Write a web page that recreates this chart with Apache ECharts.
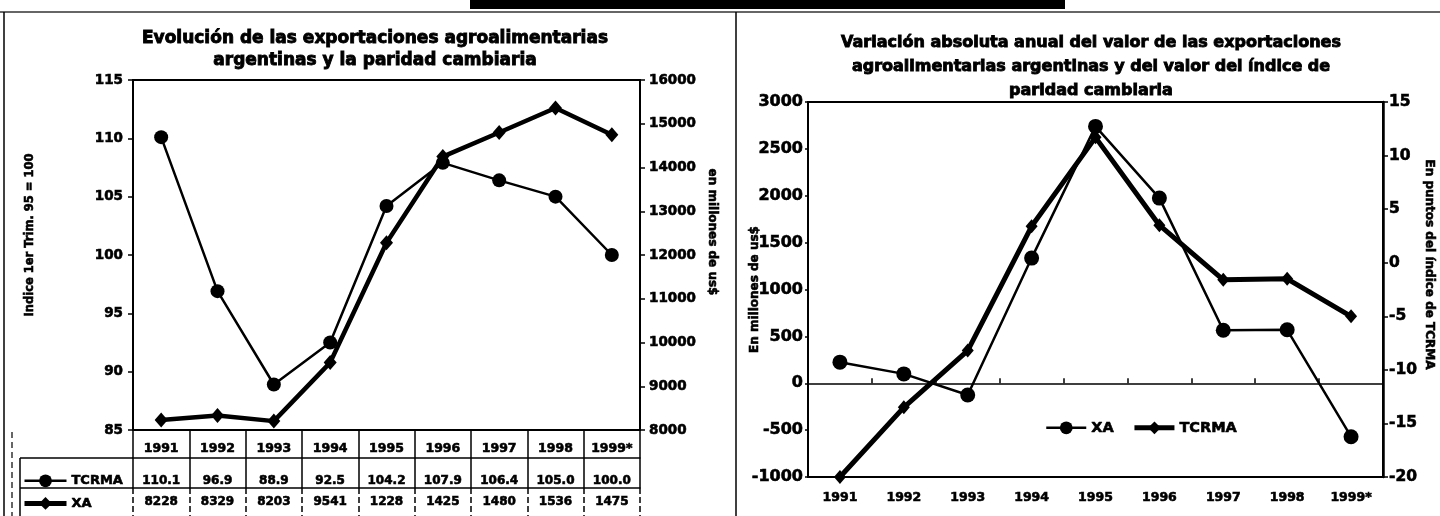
<!DOCTYPE html>
<html><head><meta charset="utf-8">
<script src="https://cdn.jsdelivr.net/npm/echarts@6/dist/echarts.min.js"></script>
<style>html,body{margin:0;padding:0;background:#fff}#c{width:1440px;height:516px}</style>
</head><body><div id="c"></div>
<script>
// ---- data ----
const years = ['1991','1992','1993','1994','1995','1996','1997','1998','1999*'];
const tcrmaIndex = [110.1, 96.9, 88.9, 92.5, 104.2, 107.9, 106.4, 105.0, 100.0];
const xaValue = [8228, 8329, 8203, 9541, 12280, 14250, 14800, 15360, 14750];
const xaTableLabels = ['8228','8329','8203','9541','1228','1425','1480','1536','1475'];
const xaChange = [225, 100, -125, 1335, 2740, 1975, 565, 570, -570];
const tcrmaChange = [-20, -13.5, -8.2, 3.4, 11.7, 3.5, -1.6, -1.5, -5.0];

const F = 'DejaVu Sans';
const bold = (size, extra) => Object.assign({fontFamily: F, fontWeight: 'bold', fontSize: size, color: '#000',
  textBorderColor: '#000', textBorderWidth: 0.6}, extra || {});
const blackLine = (w, extra) => Object.assign({color: '#000', width: w}, extra || {});
const plain = v => String(v);

const chart = echarts.init(document.getElementById('c'), null, {renderer: 'canvas'});
chart.setOption({
  animation: false,
  backgroundColor: '#fff',
  title: [
    {text: 'Evolución de las exportaciones agroalimentarias\nargentinas y la paridad cambiaria',
     left: 370, top: 23, textAlign: 'center', textStyle: bold(17, {lineHeight: 22, textBorderWidth: 0.9})},
    {text: 'Variación absoluta anual del valor de las exportaciones\nagroalimentarias argentinas y del valor del índice de\nparidad cambiaria',
     left: 1086, top: 26, textAlign: 'center', textStyle: bold(16, {lineHeight: 24, textBorderWidth: 0.9})}
  ],
  legend: [
    {data: [{name: 'TCRMA', lineStyle: {width: 2.5}}, {name: 'XA', lineStyle: {width: 5}}],
     orient: 'vertical', left: 22, top: 474, padding: 0, itemWidth: 42, itemHeight: 16, itemGap: 9,
     selectedMode: false, textStyle: bold(13)},
    {data: [{name: 'XA (var)', lineStyle: {width: 2.5}}, {name: 'TCRMA (var)', lineStyle: {width: 5}}],
     orient: 'horizontal', left: 1040, top: 415, itemWidth: 40, itemHeight: 16, itemGap: 18,
     selectedMode: false, formatter: n => n.replace(' (var)', ''), textStyle: bold(14.5)}
  ],
  grid: [
    {left: 133, right: 800, top: 80, bottom: 86, show: true, borderColor: '#000', borderWidth: 2},
    {left: 808, right: 57, top: 102, bottom: 39, show: true, borderColor: '#000', borderWidth: 2}
  ],
  xAxis: [
    {type: 'category', gridIndex: 0, data: years, position: 'bottom',
     axisLine: {onZero: false, lineStyle: blackLine(2)},
     axisTick: {show: true, interval: 0, length: 28, lineStyle: blackLine(1.5)},
     axisLabel: Object.assign({interval: 0, margin: 12}, bold(12.5))},
    {type: 'category', gridIndex: 0, data: years, position: 'bottom', offset: 28,
     axisLine: {onZero: false, lineStyle: blackLine(1.5)},
     axisTick: {show: true, interval: 0, length: 30, lineStyle: blackLine(1.5)},
     axisLabel: Object.assign({interval: 0, margin: 17, formatter: (v, i) => tcrmaIndex[i].toFixed(1)}, bold(12))},
    {type: 'category', gridIndex: 0, data: years, position: 'bottom', offset: 58,
     axisLine: {onZero: false, lineStyle: blackLine(1.5)},
     axisTick: {show: true, interval: 0, length: 28, lineStyle: blackLine(1.5, {type: 'dashed'})},
     axisLabel: Object.assign({interval: 0, margin: 8, formatter: (v, i) => xaTableLabels[i]}, bold(12))},
    {type: 'category', gridIndex: 1, data: years, position: 'bottom',
     axisLine: {onZero: false, lineStyle: blackLine(2)},
     axisTick: {show: false},
     axisLabel: Object.assign({interval: 0, margin: 14}, bold(12.5))},
    {type: 'category', gridIndex: 1, data: years, position: 'bottom',
     axisLine: {onZero: true, onZeroAxisIndex: 2, lineStyle: blackLine(1.5)},
     axisTick: {show: true, interval: 0, inside: true, length: 5, lineStyle: blackLine(1.5)},
     axisLabel: {show: false}}
  ],
  yAxis: [
    {type: 'value', gridIndex: 0, position: 'left', min: 85, max: 115, interval: 5,
     axisLine: {show: true, lineStyle: blackLine(2)}, axisTick: {show: true, length: 5, lineStyle: blackLine(1.5)},
     axisLabel: Object.assign({margin: 10, formatter: plain}, bold(13.5)), splitLine: {show: false},
     name: 'Indice 1er Trim. 95 = 100', nameLocation: 'middle', nameRotate: 90, nameGap: 97, nameMoveOverlap: false,
     nameTextStyle: bold(11.5, {padding: [0, 0, 0, 40]})},
    {type: 'value', gridIndex: 0, position: 'right', min: 8000, max: 16000, interval: 1000,
     axisLine: {show: true, lineStyle: blackLine(2)}, axisTick: {show: true, length: 5, lineStyle: blackLine(1.5)},
     axisLabel: Object.assign({margin: 9, formatter: plain}, bold(13.5)), splitLine: {show: false},
     name: 'en millones de us$', nameLocation: 'middle', nameRotate: -90, nameGap: 66, nameMoveOverlap: false,
     nameTextStyle: bold(12, {padding: [0, 46, 0, 0]})},
    {type: 'value', gridIndex: 1, position: 'left', min: -1000, max: 3000, interval: 500,
     axisLine: {show: true, lineStyle: blackLine(2)}, axisTick: {show: true, length: 3, lineStyle: blackLine(1.5)},
     axisLabel: Object.assign({margin: 5, formatter: plain}, bold(16)), splitLine: {show: false},
     name: 'En millones de us$', nameLocation: 'middle', nameRotate: 90, nameGap: 47, nameMoveOverlap: false,
     nameTextStyle: bold(12)},
    {type: 'value', gridIndex: 1, position: 'right', min: -20, max: 15, interval: 5,
     axisLine: {show: true, lineStyle: blackLine(2.5)}, axisTick: {show: true, length: 5, lineStyle: blackLine(1.5)},
     axisLabel: Object.assign({margin: 6, formatter: plain}, bold(15.5)), splitLine: {show: false},
     name: 'En puntos del índice de TCRMA', nameLocation: 'middle', nameRotate: -90, nameGap: 40, nameMoveOverlap: false,
     nameTextStyle: bold(12, {padding: [0, 50, 0, 0]})}
  ],
  series: [
    {name: 'TCRMA', type: 'line', xAxisIndex: 0, yAxisIndex: 0, data: tcrmaIndex,
     symbol: 'circle', symbolSize: 14, lineStyle: blackLine(2.5), itemStyle: {color: '#000'}},
    {name: 'XA', type: 'line', xAxisIndex: 0, yAxisIndex: 1, data: xaValue,
     symbol: 'diamond', symbolSize: [13, 15], lineStyle: blackLine(4.5), itemStyle: {color: '#000'}},
    {name: 'XA (var)', type: 'line', xAxisIndex: 3, yAxisIndex: 2, data: xaChange,
     symbol: 'circle', symbolSize: 15, lineStyle: blackLine(2.5), itemStyle: {color: '#000'}},
    {name: 'TCRMA (var)', type: 'line', xAxisIndex: 3, yAxisIndex: 3, data: tcrmaChange,
     symbol: 'diamond', symbolSize: [12, 14], lineStyle: blackLine(5), itemStyle: {color: '#000'}}
  ],
  graphic: [
    {type: 'rect', shape: {x: 470, y: 0, width: 595, height: 9}, style: {fill: '#000'}},
    {type: 'line', shape: {x1: 0, y1: 12, x2: 1440, y2: 12}, style: {stroke: '#333', lineWidth: 1.5}},
    {type: 'line', shape: {x1: 4, y1: 12, x2: 4, y2: 516}, style: {stroke: '#000', lineWidth: 1.5}},
    {type: 'line', shape: {x1: 736, y1: 12, x2: 736, y2: 516}, style: {stroke: '#000', lineWidth: 1.5}},
    {type: 'line', shape: {x1: 20, y1: 458, x2: 133, y2: 458}, style: {stroke: '#000', lineWidth: 1.5}},
    {type: 'line', shape: {x1: 20, y1: 488, x2: 133, y2: 488}, style: {stroke: '#000', lineWidth: 1.5}},
    {type: 'line', shape: {x1: 20, y1: 458, x2: 20, y2: 516}, style: {stroke: '#000', lineWidth: 1.5}},
    {type: 'line', shape: {x1: 12, y1: 432, x2: 12, y2: 516}, style: {stroke: '#000', lineWidth: 1.2, lineDash: [6, 4]}}
  ]
});
</script></body></html>
